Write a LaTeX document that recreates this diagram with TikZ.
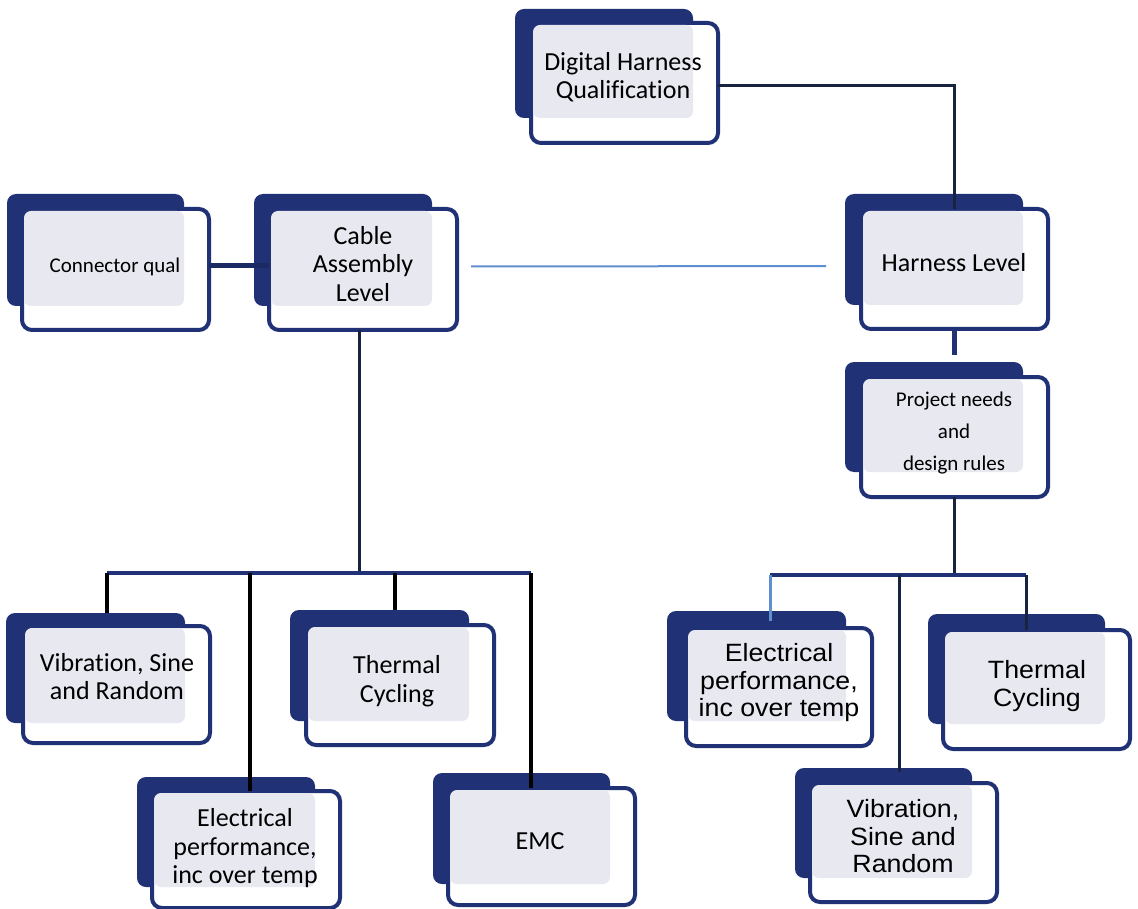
\documentclass[tikz,border=0pt]{standalone}
\usepackage{fontspec}
\setmainfont{Carlito}[Ligatures={NoCommon}]
\newfontfamily\arialf{Liberation Sans}[FakeStretch=1.07]
\usetikzlibrary{calc}
\definecolor{navyc}{HTML}{203275}
\definecolor{grayc}{HTML}{E7E8F0}
\definecolor{darkc}{HTML}{18233F}
\definecolor{lbluec}{HTML}{5E8FD0}
\tikzset{
  backbox/.style={rectangle, fill=navyc, rounded corners=9pt, inner sep=0pt, outer sep=0pt},
  frontbox/.style={rectangle, draw=navyc, line width=4pt, fill=white, rounded corners=10pt, inner sep=0pt, outer sep=0pt},
  txt/.style={align=center, inner sep=0pt, font=\fontsize{26}{28.5}\selectfont},
  txtsm/.style={align=center, inner sep=0pt, font=\fontsize{21}{32}\selectfont},
  txtar/.style={align=center, inner sep=0pt, font=\arialf\fontsize{25}{27.5}\selectfont},
  blkline/.style={draw=black, line width=3.5pt},
  busline/.style={draw=navyc, line width=4pt},
  darkline/.style={draw=darkc, line width=3pt},
}
\newcommand\tbox[9]{%
  \node[backbox, minimum width={(#4-#2)*1pt}, minimum height={(#5-#3)*1pt}] (#1-b) at ({(#2+#4)/2},{(#3+#5)/2}) {};
  \node[frontbox, minimum width={(#8-#6)*1pt}, minimum height={(#9-#7)*1pt}] (#1) at ({(#6+#8)/2},{(#7+#9)/2}) {};
  \fill[grayc, rounded corners=7pt] ({#6+2},{#7+2}) rectangle (#4,#5);
}
\begin{document}
\begin{tikzpicture}[x=1pt,y=-1pt]
\useasboundingbox[fill=white] (0,0) rectangle (1138,909);
% boxes
\tbox{dhq}{515}{9}{693}{118}{531}{23}{718}{143}
\tbox{conn}{7}{194}{184}{306}{22}{209}{209}{330}
\tbox{cab}{254}{194}{432}{306}{269}{209}{457}{330}
\tbox{harn}{845}{194}{1023}{305}{861}{209}{1048}{329}
\tbox{proj}{845}{362}{1023}{472}{861}{377}{1048}{497}
\tbox{vibL}{6}{613}{185}{723}{23}{626}{210}{743}
\tbox{thermL}{290}{610}{469}{721}{306}{625}{494}{745}
\tbox{elecL}{137}{777}{315}{887}{152}{791}{340}{908}
\tbox{emc}{433}{773}{610}{884}{448}{788}{635}{905}
\tbox{elecR}{667}{611}{846}{721}{686}{628}{872}{746}
\tbox{thermR}{928}{614}{1105}{724}{943}{630}{1130}{749}
\tbox{vibR}{795}{768}{972}{878}{810}{783}{997}{902}
% texts
\node[txt] (t-dhq) at (623,77) {Digital Harness\\Qualification};
\node[txt, font=\fontsize{21}{26}\selectfont] (t-conn) at (115,266.5) {Connector qual};
\node[txt] (t-cab) at (363,264) {Cable\\Assembly\\Level};
\node[txt] (t-harn) at (954,263) {Harness Level};
\node[txtsm] (t-proj) at (954,433.5) {Project needs\\and\\design rules};
\node[txt] (t-vibL) at (117,676.5) {Vibration, Sine\\and Random};
\node[txt] (t-thermL) at (397,681) {Thermal\\Cycling};
\node[txt] (t-elecL) at (245,848.5) {Electrical\\performance,\\inc over temp};
\node[txt] (t-emc) at (540,841.5) {EMC};
\node[txtar] (t-elecR) at (779,683) {Electrical\\performance,\\inc over temp};
\node[txtar] (t-thermR) at (1037,686) {Thermal\\Cycling};
\node[txtar] (t-vibR) at (903,836.5) {Vibration,\\Sine and\\Random};
% bus coordinates
\coordinate (lb1) at (107,573);
\coordinate (lb2) at (250,573);
\coordinate (lb3) at (395,573);
\coordinate (lb4) at (531,573);
\coordinate (rbL) at (770,575);
\coordinate (rbV) at (899,575);
\coordinate (rbR) at (1026,575);
% connectors
\draw[draw=darkc, line width=3pt] ($(dhq.east)+(0,3)$) -| (harn.north);
\draw[draw=navyc!85!black, line width=5pt] ($(conn.east)+(0,-3.5)$) -- ($(conn.east -| cab.west)+(0,-3.5)$);
\draw[draw=lbluec, line width=2pt, shorten <=14pt, shorten >=35pt] ($(cab.east)+(0,-3)$) -- ($(harn.west)+(0,-3)$);
\draw[draw=navyc, line width=5pt, shorten >=7pt] (harn.south) -- (harn.south |- proj-b.north);
\draw[darkline] ([xshift=-4pt]cab.south) -- ([xshift=-4pt]cab.south |- lb1);
\draw[busline] (lb1) -- (lb4);
\draw[blkline] (lb1) -- (lb1 |- vibL-b.north);
\draw[blkline] (lb2) -- (lb2 |- elecL.north);
\draw[blkline] (lb3) -- (lb3 |- thermL-b.north);
\draw[blkline] (lb4) -- (lb4 |- emc.north);
\draw[darkline] (proj.south) -- (proj.south |- rbL);
\draw[busline] (rbL) -- (rbR);
\draw[draw=lbluec, line width=3pt] (rbL) -- ($(rbL |- elecR-b.north)+(0,10)$);
\draw[darkline] (rbV) -- ($(rbV |- vibR-b.north)+(0,4)$);
\draw[darkline] (rbR) -- (rbR |- thermR.north);
\end{tikzpicture}
\end{document}
